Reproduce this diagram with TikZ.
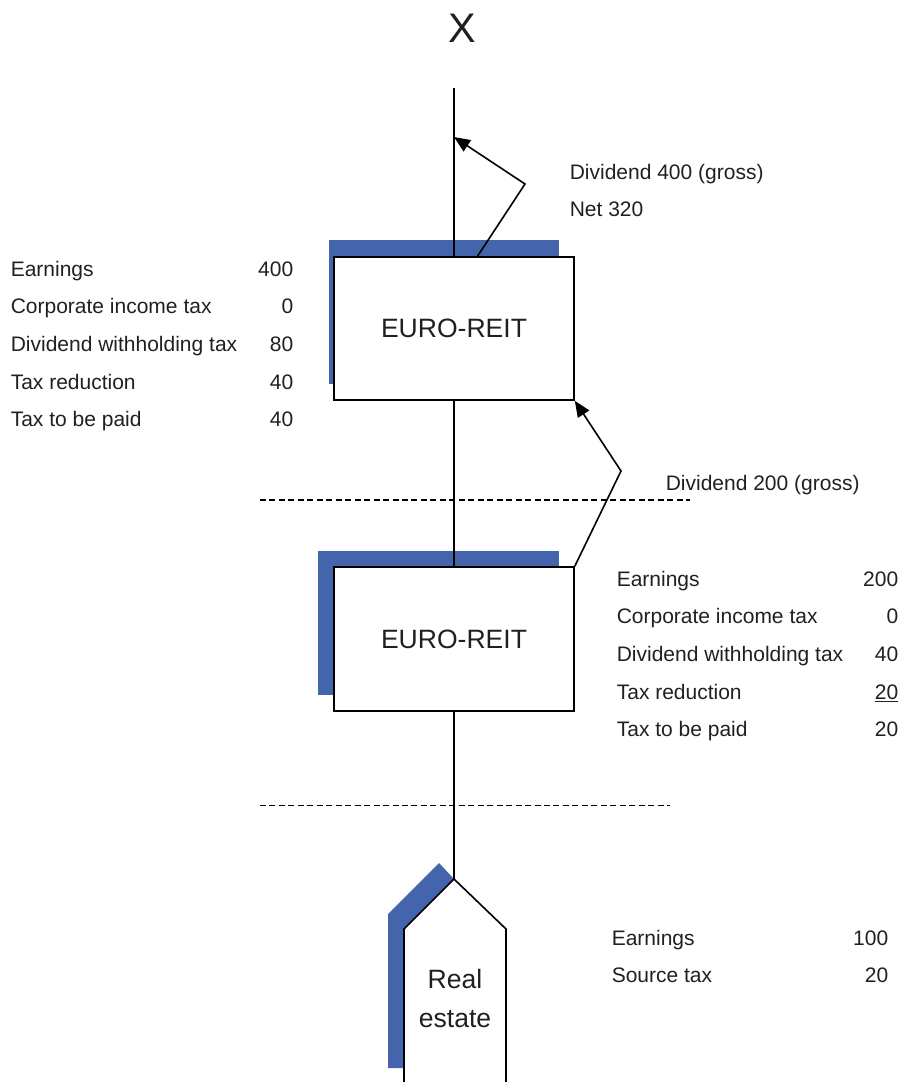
\documentclass[tikz,border=0pt]{standalone}
\usepackage{fontspec}
\setmainfont{Liberation Sans}
\usetikzlibrary{arrows.meta}
\definecolor{shadowblue}{RGB}{68,100,172}
\definecolor{txt}{RGB}{35,31,32}
\begin{document}
\begin{tikzpicture}[x=0.75pt,y=-0.75pt,line width=1.2pt,
  tbl/.style={font=\fontsize{15.75}{18}\selectfont,text=txt,inner sep=0pt},
  lbl/.style={tbl,anchor=base west},
  val/.style={tbl,anchor=base east},
  reitbox/.style={draw=black,fill=white,inner sep=0pt,minimum width=180pt,
    font=\fontsize{19.9}{23}\selectfont,text=txt},
  bigtext/.style={font=\fontsize{19.9}{23}\selectfont,text=txt,inner sep=0pt,anchor=base},
  flow/.style={-{Triangle[length=12pt,width=10pt]},line width=1.2pt},
  sep/.style={dash pattern=on 4.5pt off 2.6pt,line width=1.1pt}]
\useasboundingbox (0,0) rectangle (905,1082);

% X
\node[font=\fontsize{31}{36}\selectfont,text=txt,inner sep=0pt,anchor=base] (X) at (462.5,42) {X};

% shadows
\fill[shadowblue] (329,240) rectangle (559,384);
\fill[shadowblue] (318,551) rectangle (559,695);
\fill[shadowblue] (388,1068) -- (388,914) -- (439,863) -- (454,879) -- (404,929) -- (404,1068) -- cycle;

% boxes
\node[reitbox,minimum height=107.25pt] (b1) at (454,328.5) {EURO-REIT};
\node[reitbox,minimum height=108pt] (b2) at (454,639) {EURO-REIT};

% house
\coordinate (apex) at (454,879);
\draw[fill=white] (404,1083) -- (404,929) -- (apex) -- (506,929) -- (506,1083);
\node[bigtext] (real) at (455,988.5) {Real};
\node[bigtext] (estate) at (455,1027) {estate};

% vertical connectors
\coordinate (topend) at (454,88);
\draw (topend) -- (b1.north);
\draw (b1.south) -- (b2.north);
\draw (b2.south) -- (apex);

% dividend arrows
\coordinate (a1s) at (477,257);
\coordinate (a1e) at (525,184);
\coordinate (a1t) at (454,137);
\draw[flow] (a1s) -- (a1e) -- (a1t);
\coordinate (a2e) at (621,471);
\draw[flow] (b2.north east) -- (a2e) -- (b1.south east);

% dashed separators
\draw[sep] (260,500) -- (690,500);
\draw[sep] (260,805.5) -- (670,805.5);

% arrow labels
\node[lbl] (d400) at (569,179.3) {Dividend 400 (gross)};
\node[lbl] (net) at (569,216.7) {Net 320};
\node[lbl] (d200) at (665,490.7) {Dividend 200 (gross)};

% left table
\foreach \i/\t/\v [count=\k from 0] in {1/Earnings/400,2/Corporate income tax/0,3/Dividend withholding tax/80,4/Tax reduction/40,5/Tax to be paid/40}{
  \node[lbl] (Ll\i) at (10,276+37.7*\k) {\t};
  \node[val] (Lv\i) at (294,276+37.7*\k) {\v};
}

% right table
\foreach \i/\t/\v [count=\k from 0] in {1/Earnings/200,2/Corporate income tax/0,3/Dividend withholding tax/40,4/Tax reduction/\underline{20},5/Tax to be paid/20}{
  \node[lbl] (Rl\i) at (616,586+37.7*\k) {\t};
  \node[val] (Rv\i) at (899,586+37.7*\k) {\v};
}

% bottom right table
\node[lbl] (Bl1) at (611,945) {Earnings};
\node[val] (Bv1) at (889,945) {100};
\node[lbl] (Bl2) at (611,982.5) {Source tax};
\node[val] (Bv2) at (889,982.5) {20};
\end{tikzpicture}
\end{document}
